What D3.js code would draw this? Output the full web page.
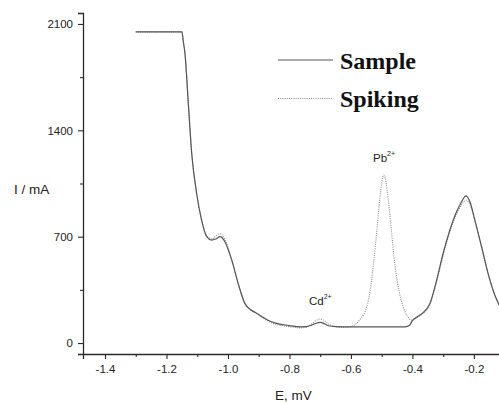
<!DOCTYPE html>
<html><head><meta charset="utf-8">
<script src="https://cdn.jsdelivr.net/npm/d3@7"></script>
<style>body{margin:0;background:#fff;}svg{display:block;}</style>
</head><body>
<svg id="c" width="499" height="403"></svg>
<script>
// ---- data ----
const potential = [-1.30,-1.15,-1.145,-1.14,-1.129,-1.118,-1.102,-1.086,-1.069,-1.053,-1.04,-1.026,-1.01,-0.988,-0.967,-0.945,-0.928,-0.91,-0.896,-0.87,-0.842,-0.80,-0.766,-0.745,-0.728,-0.714,-0.70,-0.687,-0.674,-0.65,-0.625,-0.614,-0.60,-0.581,-0.567,-0.554,-0.538,-0.527,-0.516,-0.506,-0.493,-0.479,-0.468,-0.457,-0.443,-0.424,-0.41,-0.40,-0.39,-0.376,-0.365,-0.343,-0.321,-0.30,-0.278,-0.256,-0.24,-0.226,-0.213,-0.197,-0.175,-0.154,-0.132,-0.118];
const sampleI = [2048,2048,1980,1908,1578,1249,986,810,700,678,685,700,667,547,393,261,222,200,182,150,130,115,107,108,118,130,136,128,114,108,107,107,106,106,106,106,106,106,106,106,106,106,106,106,106,107,115,148,165,184,200,261,415,591,744,865,930,968,930,810,634,459,316,250];
const spikingI = [2048,2048,1980,1908,1578,1249,986,812,704,684,702,720,682,550,394,260,220,198,178,145,122,108,100,105,125,148,158,148,128,108,102,104,110,130,165,206,338,514,733,953,1106,953,733,514,338,206,160,150,160,180,195,255,405,580,735,850,910,940,915,805,630,458,318,252];
const xTicks = [-1.4,-1.2,-1.0,-0.8,-0.6,-0.4,-0.2];
const xMinor = [-1.3,-1.1,-0.9,-0.7,-0.5,-0.3];
const yTicks = [0,700,1400,2100];
const yMinor = [350,1050,1750];
const seriesNames = ["Sample","Spiking"];

// ---- chart ----
const svg = d3.select("#c");
const x = d3.scaleLinear().domain([-1.4716, -0.05]).range([83, 520]);
const y = d3.scaleLinear().domain([-72, 2172]).range([354, 13]);
const axisColor = "#2a2a2a";
const font = "'Liberation Sans', Arial, sans-serif";

const line = d3.line().x(d => x(d[0])).y(d => y(d[1])).curve(d3.curveMonotoneX);
const sampleData = potential.map((e, i) => [e, sampleI[i]]);
const spikeData = potential.map((e, i) => [e, spikingI[i]]);

svg.append("path").datum(spikeData).attr("d", line)
  .attr("fill", "none").attr("stroke", "#8a8a8a").attr("stroke-width", 1.1)
  .attr("stroke-dasharray", "1,1.2");
svg.append("path").datum(sampleData).attr("d", line)
  .attr("fill", "none").attr("stroke", "#555").attr("stroke-width", 1.2);

const fmtX = d => d.toFixed(1);
const fmtY = d => String(d);

// x axis
const xAxis = svg.append("g").attr("transform", "translate(0,354)")
  .call(d3.axisBottom(x).tickValues(xTicks).tickSize(5).tickPadding(6).tickFormat(fmtX));
svg.append("g").attr("transform", "translate(0,354)")
  .call(d3.axisBottom(x).tickValues(xMinor).tickSize(3).tickFormat(""))
  .select(".domain").remove();
// y axis
const yAxis = svg.append("g").attr("transform", "translate(83,0)")
  .call(d3.axisLeft(y).tickValues(yTicks).tickSize(5).tickPadding(5).tickFormat(fmtY));
svg.append("g").attr("transform", "translate(83,0)")
  .call(d3.axisLeft(y).tickValues(yMinor).tickSize(3).tickFormat(""))
  .select(".domain").remove();

svg.selectAll(".domain").attr("stroke", axisColor).attr("stroke-width", 1.3);
svg.selectAll(".tick line").attr("stroke", axisColor).attr("stroke-width", 1.1);
svg.selectAll(".tick text").attr("fill", "#222").style("font-family", font).style("font-size", "11.5px");

// axis titles
svg.append("text").attr("x", 14).attr("y", 194).text("I / mA")
  .style("font-family", font).style("font-size", "13.5px").attr("fill", "#222");
svg.append("text").attr("x", 275).attr("y", 400).text("E, mV")
  .style("font-family", font).style("font-size", "13.5px").attr("fill", "#222");

// peak labels
function ionLabel(xp, yp, base) {
  const t = svg.append("text").attr("x", xp).attr("y", yp)
    .style("font-family", font).style("font-size", "11.5px").attr("fill", "#222");
  t.append("tspan").text(base);
  t.append("tspan").attr("dy", -6).style("font-size", "7px").text("2+");
}
ionLabel(373, 162, "Pb");
ionLabel(309, 305, "Cd");

// legend
const legendY = [60, 98.5];
const legendStyles = [
  {stroke: "#555", dash: null, w: 1.2},
  {stroke: "#8a8a8a", dash: "1,1.2", w: 1.1}
];
seriesNames.forEach((name, i) => {
  svg.append("line").attr("x1", 278).attr("x2", 333).attr("y1", legendY[i]).attr("y2", legendY[i])
    .attr("stroke", legendStyles[i].stroke).attr("stroke-width", legendStyles[i].w)
    .attr("stroke-dasharray", legendStyles[i].dash);
  svg.append("text").attr("x", 340).attr("y", legendY[i] + 8.5).text(name)
    .style("font-family", "'Liberation Serif', 'Times New Roman', serif")
    .style("font-weight", "bold").style("font-size", "24px").attr("fill", "#111");
});
</script>
</body></html>
